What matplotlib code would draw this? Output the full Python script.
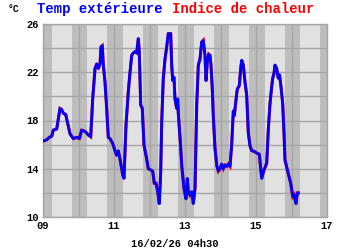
import matplotlib
matplotlib.use("Agg")
import matplotlib.pyplot as plt

# time in days (day-of-month + fraction), temperature in °C
days = [9.008, 9.104, 9.177, 9.245, 9.290, 9.386, 9.431, 9.479, 9.527, 9.572,
        9.639, 9.685, 9.761, 9.854, 9.949, 10.023, 10.090, 10.183, 10.276, 10.344,
        10.400, 10.465, 10.513, 10.558, 10.606, 10.634, 10.670, 10.699, 10.746, 10.794,
        10.839, 10.887, 10.963, 11.028, 11.076, 11.121, 11.169, 11.245, 11.282, 11.338,
        11.403, 11.451, 11.499, 11.544, 11.592, 11.639, 11.685, 11.713, 11.752, 11.797,
        11.845, 11.921, 11.966, 12.034, 12.090, 12.135, 12.183, 12.231, 12.276, 12.315,
        12.344, 12.389, 12.437, 12.485, 12.530, 12.597, 12.625, 12.654, 12.690, 12.718,
        12.766, 12.794, 12.811, 12.873, 12.907, 12.972, 13.028, 13.065, 13.093, 13.141,
        13.189, 13.234, 13.282, 13.330, 13.375, 13.423, 13.470, 13.515, 13.563, 13.592,
        13.628, 13.668, 13.704, 13.732, 13.769, 13.797, 13.845, 13.893, 13.938, 13.986,
        14.034, 14.079, 14.127, 14.175, 14.220, 14.268, 14.315, 14.361, 14.389, 14.428,
        14.473, 14.530, 14.569, 14.597, 14.642, 14.690, 14.738, 14.783, 14.831, 14.879,
        14.944, 15.020, 15.093, 15.161, 15.225, 15.301, 15.346, 15.394, 15.442, 15.470,
        15.507, 15.535, 15.583, 15.628, 15.662, 15.704, 15.752, 15.789, 15.817, 15.910,
        15.977, 16.034, 16.070, 16.127, 16.163, 16.192]

temp_ext = [16.3, 16.4, 16.6, 16.7, 17.2, 17.3, 18.15, 19.0, 18.9, 18.6,
            18.5, 17.9, 16.9, 16.5, 16.6, 16.5, 17.2, 17.1, 16.8, 16.65,
            19.8, 22.3, 22.7, 22.3, 22.7, 24.1, 24.2, 22.6, 21.2, 19.0,
            16.6, 16.5, 16.1, 15.5, 15.1, 15.5, 14.8, 13.5, 13.2, 17.6,
            20.4, 22.0, 23.4, 23.6, 23.7, 23.6, 24.8, 23.6, 19.3, 19.0,
            15.95, 14.8, 14.0, 13.9, 13.8, 12.8, 12.8, 12.1, 11.1, 13.7,
            17.9, 21.5, 23.1, 24.1, 25.2, 25.2, 22.6, 21.3, 21.6, 19.8,
            19.0, 19.8, 18.6, 16.0, 14.3, 12.35, 11.5, 13.2, 12.1, 11.8,
            12.1, 11.1, 12.35, 19.3, 22.6, 23.1, 24.5, 24.65, 23.4, 21.3,
            22.9, 23.5, 23.4, 22.6, 20.6, 18.4, 15.7, 14.3, 13.8, 14.0,
            14.4, 14.0, 14.3, 14.2, 14.4, 14.2, 16.0, 18.8, 18.4, 19.5,
            20.6, 20.9, 22.3, 23.0, 22.6, 21.2, 20.1, 17.0, 15.9, 15.5,
            15.45, 15.3, 15.2, 13.2, 13.9, 14.45, 17.2, 19.4, 20.8, 21.5,
            21.9, 22.6, 22.3, 21.5, 21.8, 20.8, 19.4, 16.95, 14.7, 13.6,
            12.8, 11.7, 11.85, 11.1, 12.0, 12.0]

# heat index equals the outdoor temperature at these values
heat_index = list(temp_ext)

x_ticks = [9, 11, 13, 15, 17]
x_tick_labels = ["09", "11", "13", "15", "17"]
y_ticks = [10, 14, 18, 22, 26]
y_tick_labels = ["10", "14", "18", "22", "26"]
stamp = "16/02/26 04h30"

DARK = "#bdbdbd"
LIGHT = "#e1e1e1"
GRID = "#a6a6a6"
MONO = "Liberation Mono"

fig = plt.figure(figsize=(3.5, 2.5), dpi=100)
ax = fig.add_axes([43 / 350, 1 - 217 / 250, 284 / 350, 193 / 250])
ax.set_facecolor(LIGHT)
ax.set_xlim(9, 17)
ax.set_ylim(10, 26)

# night bands (19:30 -> 06:00)
night_start = 19.5 / 24
night_end = 6.0 / 24
ax.axvspan(9, 9 + night_end, color=DARK, lw=0, zorder=0)
for d in range(9, 17):
    ax.axvspan(d + night_start, min(d + 1 + night_end, 17), color=DARK, lw=0, zorder=0)

for d in range(9, 18):
    ax.axvline(d, color=GRID, lw=1.0, zorder=1)
for v in range(10, 27, 2):
    ax.axhline(v, color=GRID, lw=1.0, zorder=1)

ax.plot(days, heat_index, color="#ff0000", lw=2.2, solid_joinstyle="miter",
        zorder=3)
ax.plot(days, temp_ext, color="#0000ff", lw=2.0, solid_joinstyle="round",
        zorder=4)

ax.set_xticks(x_ticks)
ax.set_xticklabels(x_tick_labels)
ax.set_yticks(y_ticks)
ax.set_yticklabels(y_tick_labels)
ax.tick_params(length=0, pad=3)
for lab in ax.get_xticklabels() + ax.get_yticklabels():
    lab.set_fontfamily(MONO)
    lab.set_fontweight("bold")
    lab.set_fontsize(7.5)
for s in ax.spines.values():
    s.set_color(GRID)
    s.set_linewidth(1.0)

fig.text(8 / 350, 1 - 12 / 250, "°C", fontfamily=MONO, fontweight="bold",
         fontsize=7, ha="left", va="baseline")
fig.text(37 / 350, 1 - 13 / 250, "Temp extérieure", color="#0000ff",
         fontfamily=MONO, fontweight="bold", fontsize=10, ha="left", va="baseline")
fig.text(172 / 350, 1 - 13 / 250, "Indice de chaleur", color="#ff0000",
         fontfamily=MONO, fontweight="bold", fontsize=10, ha="left", va="baseline")
fig.text(175 / 350, 1 - 247 / 250, stamp, fontfamily=MONO, fontweight="bold",
         fontsize=7.5, ha="center", va="baseline")

fig.savefig("out.png", dpi=100)
